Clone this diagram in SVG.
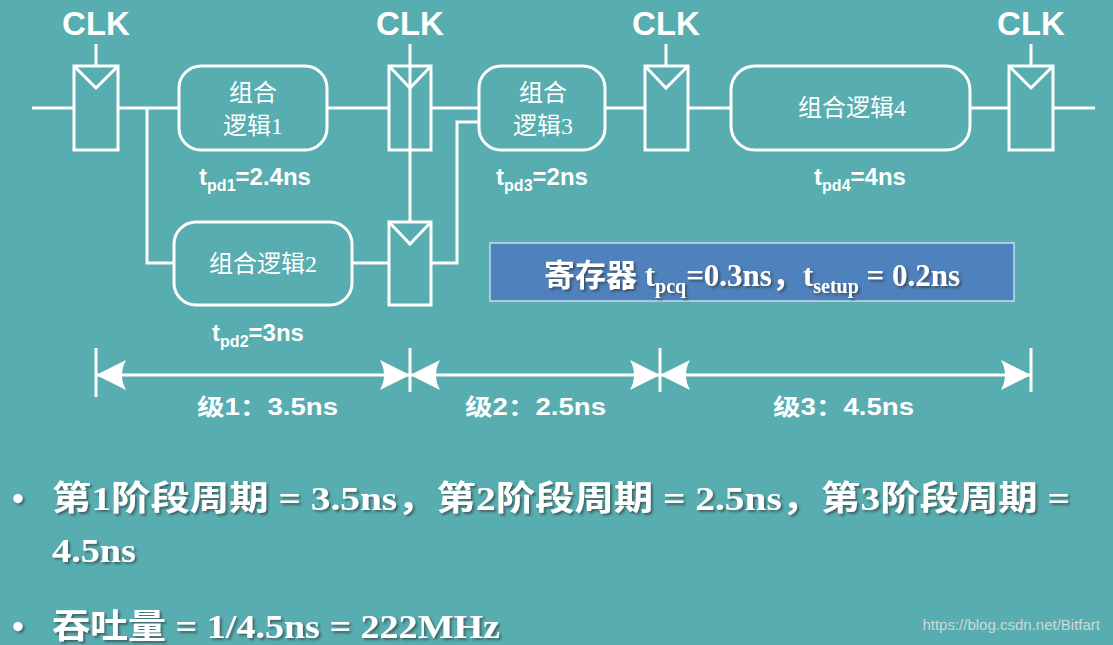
<svg xmlns="http://www.w3.org/2000/svg" width="1113" height="645" viewBox="0 0 1113 645">
<defs>
<style>
.w{stroke:#fff;stroke-width:3;fill:none}
.bx{stroke:#fff;stroke-width:3;fill:none}
.clk{font-family:"Liberation Sans",Arial,sans-serif;font-weight:bold;font-size:33px;fill:#fff;text-anchor:middle}
.lg{font-family:"Liberation Serif","Noto Sans CJK SC",serif;font-size:24px;fill:#fff;text-anchor:middle}
.tp{font-family:"Liberation Sans",Arial,sans-serif;font-weight:bold;font-size:24px;fill:#fff;text-anchor:middle}
.st{font-family:"Liberation Sans","Noto Sans CJK SC",sans-serif;font-weight:bold;font-size:23px;fill:#fff}
.big{font-family:"Liberation Serif","Noto Sans CJK SC",serif;font-weight:bold;font-size:34px;fill:#fff}
</style>
<filter id="sh"><feDropShadow dx="2" dy="2" stdDeviation="1" flood-color="#333" flood-opacity="0.6"/></filter>
<marker id="ah" viewBox="0 0 30 30" refX="30" refY="15" markerWidth="30" markerHeight="30" markerUnits="userSpaceOnUse" orient="auto-start-reverse"><path d="M0,0 L30,15 L0,30 Q8,15 0,0 Z" fill="#fff"/></marker>
</defs>
<rect width="1113" height="645" fill="#57adb0"/>
<g id="connectors" class="w">
<path d="M32,108 H74 M118,108 H179 M147,108 V263 H174 M327,108 H389 M431,108 H479 M352,263 H389 M431,263 H457 V122 H479 M605,108 H645 M688,108 H731 M970,108 H1009 M1053,108 H1095"/>
<path d="M96,44 V66 M410,44 V222 M666,44 V66 M1031,44 V66"/>
</g>
<g id="reg1"><rect class="bx" x="74" y="66" width="44" height="84"/><path class="w" d="M74,66 L96,88 L118,66"/></g>
<g id="reg2"><rect class="bx" x="389" y="66" width="42" height="84"/><path class="w" d="M389,66 L410,88 L431,66"/></g>
<g id="reg2b"><rect class="bx" x="389" y="222" width="42" height="83"/><path class="w" d="M389,222 L410,244 L431,222"/></g>
<g id="reg3"><rect class="bx" x="645" y="66" width="43" height="84"/><path class="w" d="M645,66 L666,88 L688,66"/></g>
<g id="reg4"><rect class="bx" x="1009" y="66" width="44" height="84"/><path class="w" d="M1009,66 L1031,88 L1053,66"/></g>
<g id="clk-labels"><text class="clk" x="96" y="35">CLK</text><text class="clk" x="410" y="35">CLK</text><text class="clk" x="666" y="35">CLK</text><text class="clk" x="1031" y="35">CLK</text></g>
<g id="box1"><rect class="bx" x="179" y="66" width="148" height="84" rx="22"/><text class="lg" x="253" y="101">组合</text><text class="lg" x="253" y="134">逻辑1</text></g>
<g id="box2"><rect class="bx" x="174" y="222" width="178" height="83" rx="22"/><text class="lg" x="263" y="272">组合逻辑2</text></g>
<g id="box3"><rect class="bx" x="479" y="66" width="126" height="84" rx="22"/><text class="lg" x="543" y="101">组合</text><text class="lg" x="543" y="134">逻辑3</text></g>
<g id="box4"><rect class="bx" x="731" y="66" width="239" height="84" rx="24"/><text class="lg" x="852" y="116">组合逻辑4</text></g>
<g id="tpd">
<text class="tp" x="255" y="185">t<tspan font-size="16" dy="6">pd1</tspan><tspan dy="-6">=2.4ns</tspan></text>
<text class="tp" x="258" y="341">t<tspan font-size="16" dy="6">pd2</tspan><tspan dy="-6">=3ns</tspan></text>
<text class="tp" x="542" y="185">t<tspan font-size="16" dy="6">pd3</tspan><tspan dy="-6">=2ns</tspan></text>
<text class="tp" x="860" y="185">t<tspan font-size="16" dy="6">pd4</tspan><tspan dy="-6">=4ns</tspan></text>
</g>
<g id="regparam"><rect x="490" y="243" width="524" height="58" fill="#4f81bd" stroke="#c8d8ea" stroke-width="1.5"/>
<text x="752" y="286" text-anchor="middle" filter="url(#sh)" font-family="'Liberation Serif','Noto Sans CJK SC',serif" font-weight="bold" font-size="31" fill="#fff">寄存器 t<tspan font-size="20" dy="7">pcq</tspan><tspan dy="-7">=0.3ns，t</tspan><tspan font-size="20" dy="7">setup</tspan><tspan dy="-7"> = 0.2ns</tspan></text></g>
<g id="dims" class="w">
<path d="M96,348 V397 M410,348 V392 M660,348 V392 M1031,348 V392"/>
<path d="M96,375 H410" marker-start="url(#ah)" marker-end="url(#ah)"/>
<path d="M410,375 H660" marker-start="url(#ah)" marker-end="url(#ah)"/>
<path d="M660,375 H1031" marker-start="url(#ah)" marker-end="url(#ah)"/>
</g>
<g id="stage-labels"><text class="st" x="197" y="415" textLength="141" lengthAdjust="spacingAndGlyphs">级1：3.5ns</text><text class="st" x="465" y="415" textLength="141" lengthAdjust="spacingAndGlyphs">级2：2.5ns</text><text class="st" x="773" y="415" textLength="141" lengthAdjust="spacingAndGlyphs">级3：4.5ns</text></g>
<g id="bullets" filter="url(#sh)">
<text class="big" x="12" y="510" font-size="24">•</text>
<text class="big" x="52" y="510" font-size="36" textLength="1018" lengthAdjust="spacingAndGlyphs">第1阶段周期 =  3.5ns，第2阶段周期 =  2.5ns，第3阶段周期 =</text>
<text class="big" x="52" y="562" textLength="84" lengthAdjust="spacingAndGlyphs">4.5ns</text>
<text class="big" x="12" y="638" font-size="24">•</text>
<text class="big" x="52" y="638" textLength="448" lengthAdjust="spacingAndGlyphs">吞吐量 = 1/4.5ns = 222MHz</text>
</g>
<text x="1100" y="630" text-anchor="end" font-family="'Liberation Sans',Arial,sans-serif" font-size="15" fill="#d0d8d8">https://blog.csdn.net/Bitfart</text>
</svg>
